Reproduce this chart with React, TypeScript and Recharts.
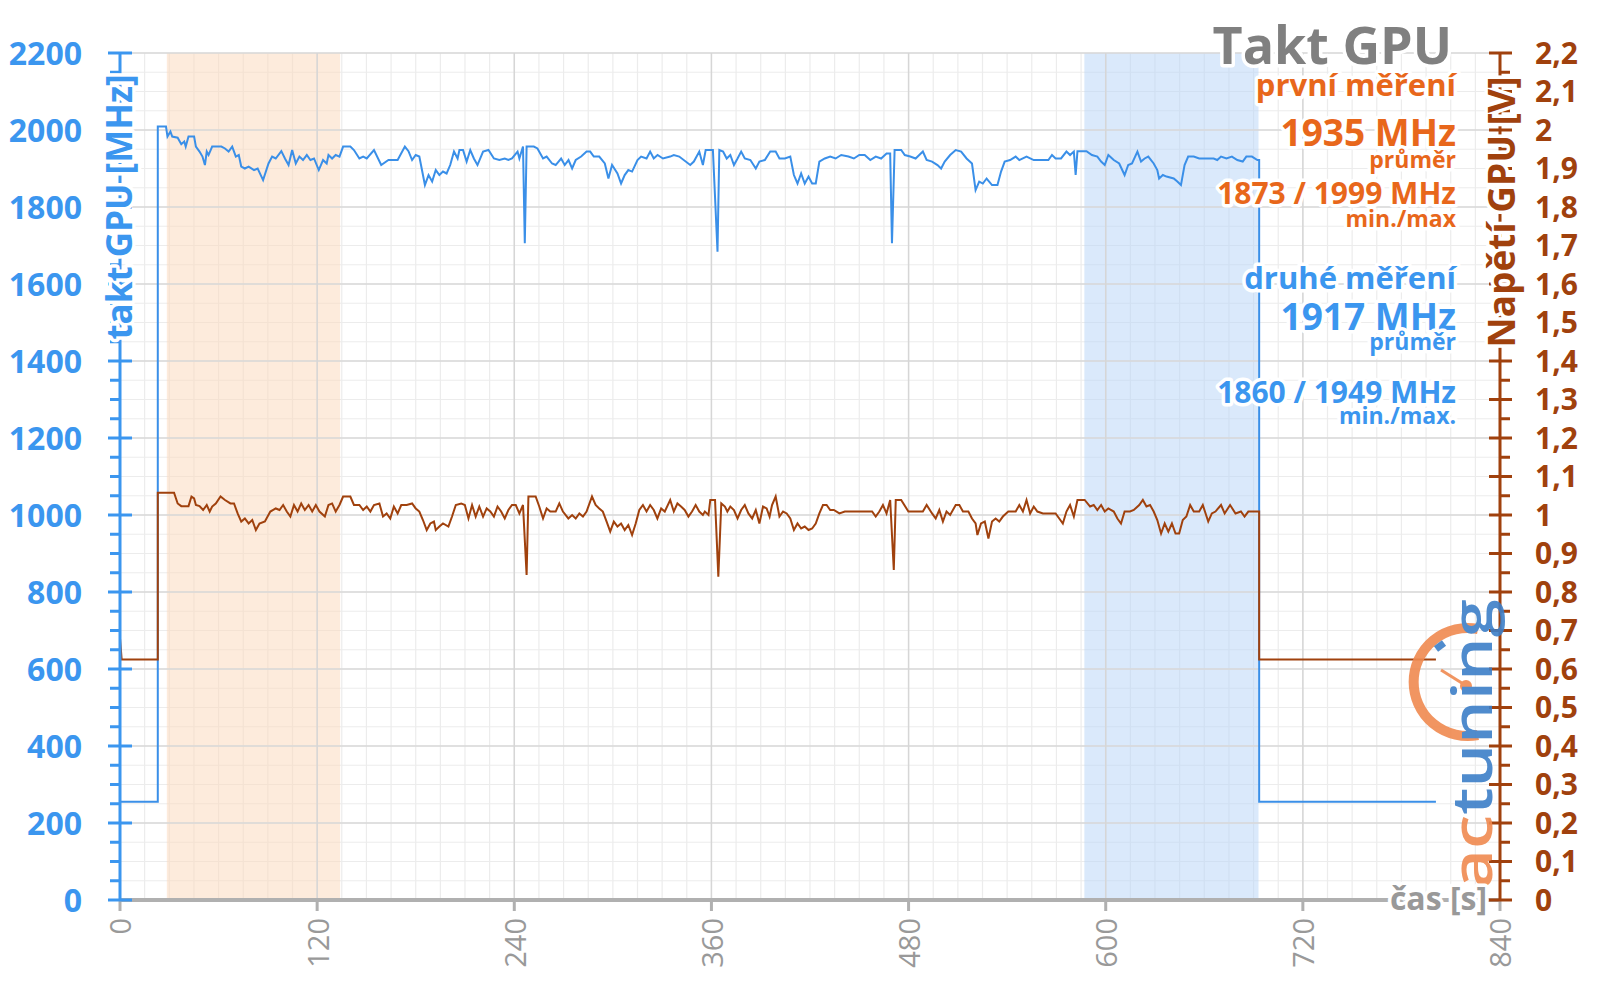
import { LineChart, Line, XAxis, YAxis, CartesianGrid, ReferenceArea, ReferenceLine } from 'recharts'

const BLUE = '#3b96ef'
const BLUE_LINE = '#3a8fe8'
const BROWN = '#a0410d'
const ORANGE = '#e8671b'
const AXIS_GREY = '#b0b0b0'
const LABEL_GREY = '#999999'
const FONT = "'Open Sans', sans-serif"

// time axis (s)
const xMajorTicks = [0, 120, 240, 360, 480, 600, 720, 840]
const xMinorStep = 15
// clock axis (MHz)
const mhzMajorTicks = [0, 200, 400, 600, 800, 1000, 1200, 1400, 1600, 1800, 2000, 2200]
const mhzMinorStep = 50
// voltage axis (V)
const voltLabels = ['0', '0,1', '0,2', '0,3', '0,4', '0,5', '0,6', '0,7', '0,8', '0,9', '1', '1,1', '1,2', '1,3', '1,4', '1,5', '1,6', '1,7', '1,8', '1,9', '2', '2,1', '2,2']
const voltMinorStep = 0.05

// highlighted measurement windows (s)
const firstRun = [28.5, 134]
const secondRun = [587, 693]

// [time s, clock MHz]
const clockSamples: [number, number][] = [
  [0, 255], [23, 255], [23, 2009], [28, 2009], [28.9, 1983], [30.7, 1996], [31.8, 1983], [35.1, 1980], [37.3, 1963],
  [39.1, 1970], [40, 1957], [41.7, 1983], [45.1, 1983], [46.2, 1957], [48.4, 1944], [50.2, 1931], [51.7, 1909],
  [52.8, 1944], [53.9, 1935], [56.1, 1957], [61.7, 1957], [63.9, 1952], [66.1, 1944], [68.3, 1957], [70.5, 1931],
  [72.3, 1935], [73.8, 1905], [76, 1900], [78.3, 1905], [81.6, 1896], [83.8, 1900], [87.1, 1870], [90.4, 1913],
  [92.6, 1931], [94.8, 1926], [98.2, 1945], [100.4, 1926], [102.6, 1909], [104.8, 1948], [107, 1913], [109.2, 1931],
  [111.4, 1922], [113.7, 1935], [115.9, 1922], [118.1, 1926], [121, 1896], [123.6, 1922], [125.8, 1913], [126.9, 1935],
  [129.1, 1926], [131.3, 1935], [133.6, 1931], [135.8, 1957], [140.2, 1957], [142.4, 1948], [145.7, 1926], [148, 1931],
  [150.2, 1926], [154.6, 1948], [159, 1909], [163.4, 1922], [169, 1922], [173.4, 1957], [175.6, 1945], [177.8, 1922],
  [180, 1935], [182.2, 1931], [185.6, 1857], [187.8, 1883], [190, 1866], [192.2, 1896], [194.4, 1883], [196.6, 1892],
  [198.8, 1887], [201, 1909], [203.3, 1944], [205.5, 1926], [206.6, 1948], [208.8, 1948], [211, 1918], [213.2, 1948],
  [215.4, 1926], [217.6, 1909], [221, 1944], [224.3, 1948], [227.6, 1926], [230.9, 1922], [234.2, 1926], [236.4, 1922],
  [238.6, 1926], [242, 1944], [243.1, 1926], [245.3, 1957], [246.4, 1706], [247.5, 1957], [251.9, 1957], [254.1, 1952],
  [257.5, 1926], [259.7, 1931], [263, 1913], [265.2, 1909], [268.5, 1926], [270.7, 1909], [273, 1922], [275.2, 1900],
  [277.4, 1922], [280.7, 1931], [284, 1944], [286.2, 1944], [288.4, 1931], [291.7, 1931], [295.1, 1913], [297.3, 1874],
  [299.5, 1909], [302.8, 1887], [305, 1861], [307.2, 1883], [309.4, 1896], [311.7, 1892], [315, 1922], [317.2, 1931],
  [320.5, 1926], [322.7, 1944], [324.9, 1926], [327.2, 1935], [330.5, 1926], [334.9, 1931], [337.1, 1935], [340.4, 1931],
  [347.1, 1909], [349.3, 1918], [352.6, 1944], [354.8, 1909], [356.5, 1948], [360.9, 1948], [363.7, 1684], [364.8, 1948],
  [367.1, 1944], [369.3, 1926], [371.5, 1935], [373.7, 1909], [375.9, 1926], [378.1, 1944], [380.3, 1926], [383.7, 1922],
  [387, 1900], [389.2, 1918], [392.5, 1922], [395.8, 1944], [399.1, 1944], [401.4, 1926], [404.7, 1926], [408, 1931],
  [410.2, 1883], [412.4, 1861], [414.6, 1887], [416.8, 1861], [419.1, 1879], [421.3, 1861], [423.5, 1861], [425.7, 1918],
  [429, 1926], [432.3, 1931], [435.6, 1926], [439, 1935], [443.4, 1931], [446.7, 1926], [450, 1935], [453.3, 1935],
  [456.7, 1922], [460, 1931], [463.3, 1926], [466.6, 1939], [468.8, 1939], [469.9, 1706], [471.5, 1948], [475.5, 1948],
  [477.7, 1935], [481, 1931], [484.3, 1926], [488.7, 1944], [491, 1922], [494.3, 1918], [497.6, 1909], [499.8, 1900],
  [502, 1918], [505.3, 1935], [508.7, 1948], [512, 1944], [515.3, 1926], [518.6, 1913], [520.8, 1844], [523, 1866],
  [525.2, 1861], [527.5, 1874], [530.8, 1857], [534.1, 1857], [536.3, 1892], [538.5, 1918], [541.8, 1922], [545.2, 1931],
  [547.4, 1922], [551.8, 1931], [556.2, 1922], [560.6, 1922], [565.1, 1922], [567.3, 1935], [569.5, 1926], [572.8, 1926],
  [576.1, 1944], [578.3, 1935], [580.6, 1944], [581.7, 1883], [582.8, 1945], [588.3, 1945], [591.6, 1935], [594.9, 1931],
  [597.2, 1918], [599.4, 1909], [601.6, 1935], [604.9, 1922], [608.2, 1913], [611.5, 1883], [613.7, 1909], [616, 1913],
  [619.3, 1944], [621.5, 1918], [623.7, 1926], [625.9, 1931], [629.2, 1913], [631.4, 1896], [632.5, 1874], [634.8, 1883],
  [637, 1879], [641.4, 1874], [643.6, 1866], [645.8, 1857], [648, 1909], [650.2, 1931], [653.6, 1931], [656.9, 1926],
  [661.3, 1926], [665.7, 1926], [667.9, 1922], [670.2, 1931], [673.5, 1926], [676.8, 1931], [680.1, 1922], [683.4, 1918],
  [685.6, 1931], [689, 1931], [692.3, 1922], [693.4, 1922], [693.4, 255], [801, 255],
]

// [time s, voltage V]
const voltSamples: [number, number][] = [
  [0, 0.68], [1, 0.625], [23, 0.625], [23, 1.058], [32.9, 1.058], [35.1, 1.03], [37.3, 1.023], [41.7, 1.023],
  [43.5, 1.048], [45.1, 1.043], [46.2, 1.026], [48.4, 1.023], [50.6, 1.013], [52.8, 1.026], [54.6, 1.009], [56.1, 1.022],
  [58.3, 1.03], [61.2, 1.048], [63.9, 1.039], [67.2, 1.03], [69.4, 1.03], [71.6, 1.004], [73.8, 0.983], [76, 0.991],
  [78.3, 0.978], [80.5, 0.987], [82.7, 0.961], [84.9, 0.978], [88.2, 0.983], [91.5, 1.009], [94.8, 1.017], [97.1, 1.013],
  [99.3, 1.026], [101.5, 1.009], [103.7, 0.996], [105.9, 1.026], [108.1, 1.009], [110.3, 1.03], [112.5, 1.013],
  [114.8, 1.026], [117, 1.009], [119.2, 1.026], [121.4, 1.009], [124.7, 0.996], [126.9, 1.026], [129.1, 1.03],
  [131.3, 1.009], [133.6, 1.026], [135.8, 1.048], [140.2, 1.048], [142.4, 1.026], [145.7, 1.026], [148, 1.013],
  [150.2, 1.022], [152.4, 1.009], [154.6, 1.026], [157.9, 1.03], [160.1, 0.996], [162.3, 1.004], [164.5, 0.991],
  [166.7, 1.022], [169, 1.004], [171.2, 1.026], [174.5, 1.026], [177.8, 1.03], [180, 1.017], [182.2, 1.009],
  [184.4, 0.987], [186.7, 0.961], [188.9, 0.978], [191.1, 0.983], [192.2, 0.961], [194.4, 0.97], [196.6, 0.978],
  [199.9, 0.97], [202.1, 0.996], [204.4, 1.026], [207.7, 1.03], [209.9, 1.026], [212.1, 0.991], [214.3, 1.026],
  [216.5, 0.996], [218.7, 1.022], [221, 0.996], [223.2, 1.017], [225.4, 1.009], [227.6, 0.996], [229.8, 1.022],
  [232, 1.009], [234.2, 0.991], [236.4, 1.013], [238.6, 1.026], [240.9, 1.026], [243.1, 1.004], [245.3, 1.026],
  [247.5, 0.844], [248.6, 1.048], [253, 1.048], [255.2, 1.022], [257.5, 0.991], [259.7, 1.017], [261.9, 1.009],
  [265.2, 1.009], [267.4, 1.03], [269.6, 1.009], [272.9, 0.991], [275.2, 1.0], [277.4, 0.991], [279.6, 1.004],
  [281.8, 0.996], [284, 1.009], [287.3, 1.048], [289.5, 1.026], [291.7, 1.017], [293.9, 1.009], [296.2, 0.983],
  [298.4, 0.957], [300.6, 0.983], [302.8, 0.97], [305, 0.978], [307.2, 0.961], [309.4, 0.974], [311.7, 0.948],
  [313.9, 0.978], [316.1, 1.013], [318.3, 1.026], [320.5, 1.009], [322.7, 1.026], [324.9, 1.013], [327.1, 0.991],
  [329.4, 1.017], [331.6, 1.009], [334.9, 1.039], [337.1, 1.009], [339.3, 1.03], [341.5, 1.022], [343.7, 1.013],
  [346, 0.996], [348.2, 1.009], [350.4, 1.026], [352.6, 1.009], [354.8, 1.0], [356, 1.009], [358.2, 1.0],
  [359.3, 1.039], [362.2, 1.039], [364.2, 0.84], [366, 1.03], [368.2, 1.022], [369.7, 1.009], [371.5, 1.022],
  [373.7, 1.013], [375.9, 0.991], [378.1, 1.013], [380.3, 1.026], [382.5, 1.004], [384.8, 0.991], [387, 1.013],
  [389.2, 0.978], [391.4, 1.022], [393.6, 1.017], [395.4, 0.996], [396.9, 1.026], [399.1, 1.048], [401.4, 0.996],
  [403.6, 1.009], [405.8, 1.004], [408, 0.991], [410.2, 0.961], [412.4, 0.978], [414.6, 0.965], [416.8, 0.97],
  [419.1, 0.961], [421.3, 0.965], [423.5, 0.978], [425.7, 1.004], [427.9, 1.026], [430.1, 1.026], [432.3, 1.013],
  [434.5, 1.013], [437.9, 1.004], [441.2, 1.009], [457.8, 1.009], [460, 0.996], [462.2, 1.009], [464.4, 1.026],
  [466.6, 1.004], [468.8, 1.039], [471, 0.857], [472.2, 1.039], [475.5, 1.039], [479.9, 1.009], [488.7, 1.009],
  [491, 1.026], [494.3, 1.004], [496.5, 0.991], [498.7, 1.013], [500.9, 0.983], [503.1, 1.009], [505.3, 1.0],
  [508.7, 1.026], [510.9, 1.026], [513.1, 1.009], [516.4, 1.009], [518.6, 0.991], [520.8, 0.978], [521.9, 0.948],
  [524.1, 0.978], [526.4, 0.983], [528.6, 0.939], [530.8, 0.983], [533, 0.991], [535.2, 0.983], [537.4, 0.996],
  [540.7, 1.009], [545.2, 1.009], [547.4, 1.026], [549.6, 1.009], [551.8, 1.039], [554, 1.004], [556.2, 1.022],
  [558.4, 1.009], [561.8, 1.004], [569.5, 1.004], [571.7, 0.991], [573.9, 0.978], [576.1, 1.009], [578.3, 1.026],
  [580.6, 0.996], [582.8, 1.039], [587.2, 1.039], [590.5, 1.022], [592.7, 1.026], [594.9, 1.013], [597.2, 1.026],
  [599.4, 1.009], [601.6, 1.017], [604.9, 1.009], [607.1, 0.991], [609.3, 0.978], [611.5, 1.009], [614.8, 1.009],
  [617.1, 1.013], [620.4, 1.026], [622.6, 1.039], [624.8, 1.022], [627, 1.026], [629.2, 1.009], [631.4, 0.987],
  [633.7, 0.952], [635.9, 0.978], [638.1, 0.957], [640.3, 0.978], [642.5, 0.952], [644.7, 0.952], [646.9, 0.987],
  [649.1, 0.996], [651.4, 1.026], [653.6, 1.009], [656.9, 1.009], [659.1, 1.026], [662.4, 0.983], [664.6, 1.004],
  [666.8, 1.009], [670.2, 1.026], [672.4, 1.004], [675.7, 1.026], [679, 1.004], [682.3, 1.009], [684.5, 0.996],
  [686.8, 1.009], [693.4, 1.009], [693.4, 0.625], [801, 0.625],
]

const clockData = clockSamples.map(([t, mhz]) => ({ t, mhz }))
const voltData = voltSamples.map(([t, v]) => ({ t, v }))

const xTicks = Array.from({ length: 840 / xMinorStep + 1 }, (_, i) => i * xMinorStep)
const mhzTicks = Array.from({ length: 2200 / mhzMinorStep + 1 }, (_, i) => i * mhzMinorStep)
const voltTicks = Array.from({ length: 45 }, (_, i) => Math.round(i * voltMinorStep * 100) / 100)

const glow = { stroke: '#fff', strokeWidth: 7, paintOrder: 'stroke' as const, strokeLinejoin: 'round' as const }

function TimeTick({ x, y, payload }: any) {
  const v = payload.value
  if (v % 120 !== 0) return null
  return (
    <g>
      <line x1={x} x2={x} y1={y} y2={y + 11} stroke={AXIS_GREY} strokeWidth={3} />
      <text
        transform={`translate(${x + 1},${y + 18}) rotate(-90)`}
        textAnchor="end"
        dy="0.36em"
        fontFamily={FONT}
        fontSize={29}
        fill={LABEL_GREY}
      >
        {v}
      </text>
    </g>
  )
}

function MhzTick({ x, y, payload }: any) {
  const v = payload.value
  const major = mhzMajorTicks.includes(v)
  return (
    <g>
      <line x1={major ? x - 12 : x - 10} x2={major ? x + 12 : x} y1={y} y2={y} stroke={BLUE} strokeWidth={3} />
      {major && (
        <text x={x - 38} y={y} dy="0.36em" textAnchor="end" fontFamily={FONT} fontWeight={700} fontSize={32} fill={BLUE}>
          {v}
        </text>
      )}
    </g>
  )
}

function VoltTick({ x, y, payload }: any) {
  const i = Math.round(payload.value * 100)
  const major = i % 10 === 0
  return (
    <g>
      <line x1={major ? x - 11 : x} x2={major ? x + 12 : x + 10} y1={y} y2={y} stroke={BROWN} strokeWidth={3} />
      {major && (
        <text x={x + 35} y={y} dy="0.36em" textAnchor="start" fontFamily={FONT} fontWeight={700} fontSize={30} fill={BROWN}>
          {voltLabels[i / 10]}
        </text>
      )}
    </g>
  )
}

function Overlay() {
  const right = 1456
  const txt = (y: number, size: number, color: string, s: string) => (
    <text x={right} y={y} textAnchor="end" fontFamily={FONT} fontWeight={700} fontSize={size} fill={color} {...glow}>
      {s}
    </text>
  )
  return (
    <svg width={1600} height={999} style={{ position: 'absolute', left: 0, top: 0, pointerEvents: 'none' }}>
      {/* logo */}
      <g opacity={0.9}>
        <path d="M 1478 629 A 54 54 0 1 0 1478 735" fill="none" stroke="#f08a50" strokeWidth={10} />
        <line x1={1436} y1={649} x2={1444} y2={643} stroke="#3d7fc8" strokeWidth={7} />
        <line x1={1441} y1={670} x2={1465} y2={685} stroke="#f08a50" strokeWidth={3} />
        <circle cx={1466} cy={686} r={6} fill="#f08a50" />
        <text transform="translate(1492,889) rotate(-90)" fontFamily={FONT} fontWeight={600} fontSize={56} textLength={290} lengthAdjust="spacingAndGlyphs">
          <tspan fill="#f08a50">ac</tspan>
          <tspan fill="#3d7fc8">tuning</tspan>
        </text>
      </g>
      <text x={1452} y={64} textAnchor="end" fontFamily={FONT} fontWeight={700} fontSize={52} fill="#808080" {...glow}>
        Takt GPU
      </text>
      {txt(96, 31, ORANGE, 'první měření')}
      {txt(146, 37, ORANGE, '1935 MHz')}
      {txt(168, 23, ORANGE, 'průměr')}
      {txt(204, 30, ORANGE, '1873 / 1999 MHz')}
      {txt(227, 23, ORANGE, 'min./max')}
      {txt(289, 31, BLUE, 'druhé měření')}
      {txt(330, 37, BLUE, '1917 MHz')}
      {txt(350, 23, BLUE, 'průměr')}
      {txt(403, 30, BLUE, '1860 / 1949 MHz')}
      {txt(424, 23, BLUE, 'min./max.')}
      <text transform="translate(119,207) rotate(-90)" textAnchor="middle" dy="0.36em" fontFamily={FONT} fontWeight={700} fontSize={35} fill={BLUE} {...glow}>
        takt GPU [MHz]
      </text>
      <text transform="translate(1502,212) rotate(-90)" textAnchor="middle" dy="0.36em" fontFamily={FONT} fontWeight={700} fontSize={37} fill={BROWN} {...glow}>
        Napětí GPU [V]
      </text>
      <text x={1487} y={900} dy="0.3em" textAnchor="end" fontFamily={FONT} fontWeight={700} fontSize={32} fill={LABEL_GREY} {...glow}>
        čas [s]
      </text>
    </svg>
  )
}

export default function App() {
  return (
    <div style={{ position: 'fixed', left: 0, top: 0, width: 1600, height: 999, background: '#fff' }}>
      <LineChart width={1600} height={999} margin={{ top: 53, right: 0, bottom: 0, left: 0 }}>
        <CartesianGrid yAxisId="mhz" stroke="#ececec" strokeWidth={1.2} />
        <XAxis
          type="number"
          dataKey="t"
          domain={[0, 840]}
          ticks={xTicks}
          interval={0}
          height={99}
          tickSize={0}
          tickMargin={0}
          tickLine={false}
          axisLine={{ stroke: AXIS_GREY, strokeWidth: 4 }}
          tick={<TimeTick />}
          allowDataOverflow
        />
        <YAxis
          yAxisId="mhz"
          domain={[0, 2200]}
          ticks={mhzTicks}
          interval={0}
          width={120}
          tickSize={0}
          tickMargin={0}
          tickLine={false}
          axisLine={{ stroke: BLUE, strokeWidth: 3 }}
          tick={<MhzTick />}
          allowDataOverflow
        />
        <YAxis
          yAxisId="v"
          orientation="right"
          domain={[0, 2.2]}
          ticks={voltTicks}
          interval={0}
          width={100}
          tickSize={0}
          tickMargin={0}
          tickLine={false}
          axisLine={{ stroke: BROWN, strokeWidth: 3 }}
          tick={<VoltTick />}
          allowDataOverflow
        />
        <ReferenceArea yAxisId="mhz" x1={firstRun[0]} x2={firstRun[1]} fill="#fbd7b9" fillOpacity={0.5} stroke="none" />
        <ReferenceArea yAxisId="mhz" x1={secondRun[0]} x2={secondRun[1]} fill="#b5d4f8" fillOpacity={0.5} stroke="none" />
        {mhzMajorTicks.slice(1).map((v) => (
          <ReferenceLine key={'h' + v} yAxisId="mhz" y={v} stroke="#d9d9d9" strokeWidth={1.5} />
        ))}
        {xMajorTicks.slice(1, -1).map((v) => (
          <ReferenceLine key={'v' + v} yAxisId="mhz" x={v} stroke="#d6d6d6" strokeWidth={1.5} />
        ))}
        <Line
          data={clockData}
          dataKey="mhz"
          yAxisId="mhz"
          type="linear"
          stroke={BLUE_LINE}
          strokeWidth={2}
          dot={false}
          isAnimationActive={false}
        />
        <Line
          data={voltData}
          dataKey="v"
          yAxisId="v"
          type="linear"
          stroke={BROWN}
          strokeWidth={2}
          dot={false}
          isAnimationActive={false}
        />
      </LineChart>
      <Overlay />
    </div>
  )
}
